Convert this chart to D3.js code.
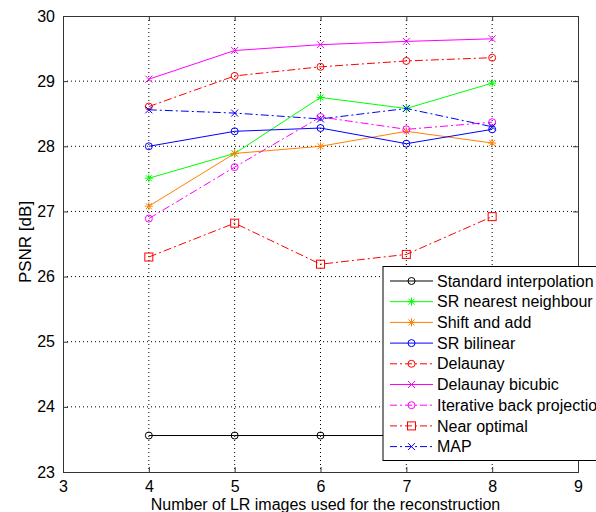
<!DOCTYPE html>
<html>
<head>
<meta charset="utf-8">
<script src="https://cdn.jsdelivr.net/npm/d3@7"></script>
<style>
  body { margin: 0; background: #fff; }
  text { font-family: "Liberation Sans", Arial, sans-serif; fill: #000; }
</style>
</head>
<body>
<div id="chart"></div>
<script>
// Data
var lrCounts = [4, 5, 6, 7, 8];
var xTicks = [3, 4, 5, 6, 7, 8, 9];
var yTicks = [23, 24, 25, 26, 27, 28, 29, 30];

var standardInterp  = [23.56, 23.56, 23.56, 23.56, 23.56];
var srNearest       = [27.51, 27.89, 28.75, 28.58, 28.97];
var shiftAdd        = [27.08, 27.89, 28.00, 28.23, 28.05];
var srBilinear      = [28.00, 28.23, 28.28, 28.04, 28.26];
var delaunay        = [28.61, 29.08, 29.22, 29.31, 29.36];
var delaunayBicubic = [29.03, 29.47, 29.56, 29.61, 29.65];
var iterBackProj    = [26.89, 27.68, 28.45, 28.26, 28.37];
var nearOptimal     = [26.30, 26.82, 26.19, 26.34, 26.92];
var mapEstimate     = [28.56, 28.51, 28.42, 28.58, 28.30];

var seriesNames = ["Standard interpolation", "SR nearest neighbour", "Shift and add",
    "SR bilinear", "Delaunay", "Delaunay bicubic", "Iterative back projection",
    "Near optimal", "MAP"];
var seriesValues = [standardInterp, srNearest, shiftAdd, srBilinear, delaunay,
    delaunayBicubic, iterBackProj, nearOptimal, mapEstimate];

// look of each line (matlab-ish)
var styles = [
    {color: "#000000", dash: null,      marker: "circle"},
    {color: "#00ff00", dash: null,      marker: "star"},
    {color: "#ff8000", dash: null,      marker: "star"},
    {color: "#0000ff", dash: null,      marker: "circle"},
    {color: "#ff0000", dash: "8,3,2,3", marker: "circle"},
    {color: "#ff00ff", dash: null,      marker: "x"},
    {color: "#ff00ff", dash: "8,3,2,3", marker: "circle"},
    {color: "#ff0000", dash: "8,3,2,3", marker: "square"},
    {color: "#0000ff", dash: "8,3,2,3", marker: "x"}
];

var margin = {top: 16, right: 18, bottom: 40, left: 63},
    width = 596 - margin.left - margin.right,
    height = 512 - margin.top - margin.bottom;

var x = d3.scaleLinear().domain([3, 9]).range([0, width]);
var y = d3.scaleLinear().domain([23, 30]).range([height, 0]);

var svg = d3.select("#chart").append("svg")
    .attr("width", 596)
    .attr("height", 512)
  .append("g")
    .attr("transform", "translate(" + margin.left + "," + margin.top + ")");

// Grid (dotted)
svg.append("g").selectAll("line")
    .data(xTicks.slice(1, -1))
    .enter().append("line")
    .attr("x1", function(d) { return x(d); })
    .attr("x2", function(d) { return x(d); })
    .attr("y1", 0).attr("y2", height)
    .attr("stroke", "#000")
    .attr("stroke-dasharray", "1,3");
svg.append("g").selectAll("line")
    .data(yTicks.slice(1, -1))
    .enter().append("line")
    .attr("y1", function(d) { return y(d); })
    .attr("y2", function(d) { return y(d); })
    .attr("x1", 0).attr("x2", width)
    .attr("stroke", "#000")
    .attr("stroke-dasharray", "1,3");

// Axes, ticks inward, on all four sides
var xAxis = d3.axisBottom(x).tickValues(xTicks).tickFormat(d3.format("d"))
    .tickSize(-5).tickPadding(9);
var yAxis = d3.axisLeft(y).tickValues(yTicks).tickFormat(d3.format("d"))
    .tickSize(-5).tickPadding(8);

var gx = svg.append("g")
    .attr("transform", "translate(0," + height + ")")
    .call(xAxis);
var gy = svg.append("g").call(yAxis);
svg.append("g").call(d3.axisTop(x).tickValues(xTicks).tickSize(-5).tickFormat(""));
svg.append("g").attr("transform", "translate(" + width + ",0)")
    .call(d3.axisRight(y).tickValues(yTicks).tickSize(-5).tickFormat(""));

svg.selectAll(".domain").attr("stroke", "#333");
svg.selectAll(".tick line").attr("stroke", "#333");
gx.selectAll("text").style("font-size", "16px");
gy.selectAll("text").style("font-size", "16px");

// Lines and markers
var line = d3.line()
    .x(function(d) { return x(d.x); })
    .y(function(d) { return y(d.v); });

function drawMarker(g, type, cx, cy, color) {
    if (type === "circle") {
        g.append("circle").attr("cx", cx).attr("cy", cy).attr("r", 3.5)
            .attr("fill", "none").attr("stroke", color);
    } else if (type === "square") {
        g.append("rect").attr("x", cx - 4).attr("y", cy - 4)
            .attr("width", 8).attr("height", 8)
            .attr("fill", "none").attr("stroke", color);
    } else if (type === "x") {
        var s = 3.5;
        g.append("path")
            .attr("d", "M" + (cx - s) + "," + (cy - s) + "L" + (cx + s) + "," + (cy + s) +
                       "M" + (cx - s) + "," + (cy + s) + "L" + (cx + s) + "," + (cy - s))
            .attr("stroke", color).attr("fill", "none");
    } else if (type === "star") {
        var r = 4, d = 3;
        g.append("path")
            .attr("d", "M" + (cx - r) + "," + cy + "L" + (cx + r) + "," + cy +
                       "M" + cx + "," + (cy - r) + "L" + cx + "," + (cy + r) +
                       "M" + (cx - d) + "," + (cy - d) + "L" + (cx + d) + "," + (cy + d) +
                       "M" + (cx - d) + "," + (cy + d) + "L" + (cx + d) + "," + (cy - d))
            .attr("stroke", color).attr("fill", "none");
    }
}

seriesValues.forEach(function(vals, i) {
    var st = styles[i];
    var pts = lrCounts.map(function(c, j) { return {x: c, v: vals[j]}; });
    var g = svg.append("g");
    g.append("path")
        .datum(pts)
        .attr("fill", "none")
        .attr("stroke", st.color)
        .attr("stroke-width", 1)
        .attr("stroke-dasharray", st.dash)
        .attr("d", line);
    pts.forEach(function(p) {
        drawMarker(g, st.marker, x(p.x), y(p.v), st.color);
    });
});

// Legend (runs off the right edge like the original)
var legend = svg.append("g")
    .attr("transform", "translate(" + (383 - margin.left) + "," + (266.5 - margin.top) + ")");
legend.append("rect")
    .attr("width", 240).attr("height", 194)
    .attr("fill", "#fff").attr("stroke", "#000");
seriesNames.forEach(function(name, i) {
    var st = styles[i];
    var ly = 14.5 + i * 20.7;
    var row = legend.append("g");
    row.append("line")
        .attr("x1", 7).attr("x2", 50)
        .attr("y1", ly).attr("y2", ly)
        .attr("stroke", st.color)
        .attr("stroke-dasharray", st.dash ? "7,3,2,3" : null);
    drawMarker(row, st.marker, 28.5, ly, st.color);
    row.append("text")
        .attr("x", 54)
        .attr("y", ly)
        .attr("dy", "0.35em")
        .style("font-size", "16px")
        .text(name);
});

// Axis labels
svg.append("text")
    .attr("x", width / 2 + 5)
    .attr("y", height + 38)
    .attr("text-anchor", "middle")
    .style("font-size", "16px")
    .text("Number of LR images used for the reconstruction");

svg.append("text")
    .attr("transform", "rotate(-90)")
    .attr("x", -height / 2 + 2)
    .attr("y", 31 - margin.left)
    .attr("text-anchor", "middle")
    .style("font-size", "17px")
    .text("PSNR [dB]");
</script>
</body>
</html>
